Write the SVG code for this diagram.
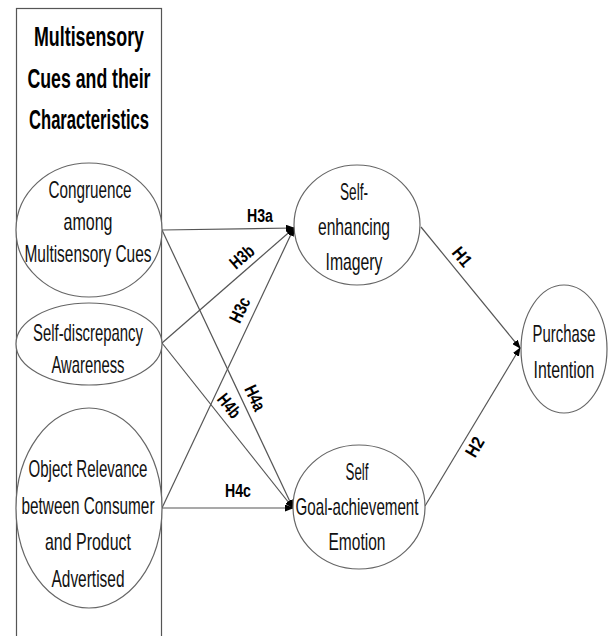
<svg xmlns="http://www.w3.org/2000/svg" width="609" height="636" viewBox="0 0 609 636">
<style>
.node{fill:#fff;stroke:#666;stroke-width:1.2}
.t{font-family:"Liberation Sans",Arial,sans-serif;font-size:24px;fill:#111;text-anchor:middle}
.title{font-family:"Liberation Sans",Arial,sans-serif;font-size:28px;font-weight:bold;fill:#000;text-anchor:middle}
.lbl{font-family:"Liberation Sans",Arial,sans-serif;font-size:18px;font-weight:bold;fill:#000;text-anchor:middle}
.c{stroke:#555;stroke-width:1.2;fill:none}
.a{marker-end:url(#arr)}
</style>
<defs>
<marker id="arr" markerUnits="userSpaceOnUse" markerWidth="9" markerHeight="7" refX="8" refY="3.5" orient="auto">
<path d="M0,0 L9,3.5 L0,7 z" fill="#000"/>
</marker>
</defs>
<rect width="609" height="636" fill="#fff"/>
<g id="frame">
<rect x="16.5" y="8.5" width="145" height="640" fill="none" stroke="#555" stroke-width="1.2"/>
<text class="title" x="89" y="46" textLength="110" lengthAdjust="spacingAndGlyphs">Multisensory</text>
<text class="title" x="89" y="88" textLength="123" lengthAdjust="spacingAndGlyphs">Cues and their</text>
<text class="title" x="89" y="129" textLength="120" lengthAdjust="spacingAndGlyphs">Characteristics</text>
</g>
<g id="connectors">
<line class="c a" x1="162" y1="230" x2="294" y2="228"/>
<line class="c a" x1="162" y1="343" x2="294" y2="228"/>
<line class="c a" x1="162" y1="508" x2="294" y2="228"/>
<line class="c a" x1="162" y1="230" x2="293" y2="508"/>
<line class="c a" x1="162" y1="343" x2="293" y2="508"/>
<line class="c a" x1="162" y1="508" x2="293" y2="508"/>
<line class="c a" x1="421" y1="227" x2="520" y2="348"/>
<line class="c a" x1="425" y1="506" x2="520" y2="348"/>
<text class="lbl" x="260" y="222" textLength="26" lengthAdjust="spacingAndGlyphs">H3a</text>
<text class="lbl" transform="translate(242,257) rotate(-40.8)" x="0" y="6" textLength="26" lengthAdjust="spacingAndGlyphs">H3b</text>
<text class="lbl" transform="translate(240,310) rotate(-64.6)" x="0" y="6" textLength="26" lengthAdjust="spacingAndGlyphs">H3c</text>
<text class="lbl" transform="translate(255,398) rotate(64.8)" x="0" y="6" textLength="26" lengthAdjust="spacingAndGlyphs">H4a</text>
<text class="lbl" transform="translate(229,406) rotate(51.5)" x="0" y="6" textLength="26" lengthAdjust="spacingAndGlyphs">H4b</text>
<text class="lbl" x="238" y="497" textLength="26" lengthAdjust="spacingAndGlyphs">H4c</text>
<text class="lbl" transform="translate(462,257) rotate(50.4)" x="0" y="6" textLength="20" lengthAdjust="spacingAndGlyphs">H1</text>
<text class="lbl" transform="translate(475,447) rotate(-59.5)" x="0" y="6" textLength="20" lengthAdjust="spacingAndGlyphs">H2</text>
</g>
<g id="congruence">
<ellipse class="node" cx="89" cy="230" rx="73" ry="67"/>
<text class="t" x="90" y="198" textLength="83" lengthAdjust="spacingAndGlyphs">Congruence</text>
<text class="t" x="88" y="230" textLength="49" lengthAdjust="spacingAndGlyphs">among</text>
<text class="t" x="88" y="262" textLength="127" lengthAdjust="spacingAndGlyphs">Multisensory Cues</text>
</g>
<g id="selfdiscrepancy">
<ellipse class="node" cx="89" cy="344" rx="73" ry="41"/>
<text class="t" x="88" y="341" textLength="110" lengthAdjust="spacingAndGlyphs">Self-discrepancy</text>
<text class="t" x="88" y="373" textLength="73" lengthAdjust="spacingAndGlyphs">Awareness</text>
</g>
<g id="objectrelevance">
<ellipse class="node" cx="89" cy="508" rx="73" ry="100"/>
<text class="t" x="88" y="477" textLength="119" lengthAdjust="spacingAndGlyphs">Object Relevance</text>
<text class="t" x="88" y="514" textLength="133" lengthAdjust="spacingAndGlyphs">between Consumer</text>
<text class="t" x="88" y="550" textLength="86" lengthAdjust="spacingAndGlyphs">and Product</text>
<text class="t" x="88" y="587" textLength="73" lengthAdjust="spacingAndGlyphs">Advertised</text>
</g>
<g id="selfenhancing">
<ellipse class="node" cx="357" cy="225" rx="63" ry="60"/>
<text class="t" x="354" y="200" textLength="28" lengthAdjust="spacingAndGlyphs">Self-</text>
<text class="t" x="354" y="235" textLength="72" lengthAdjust="spacingAndGlyphs">enhancing</text>
<text class="t" x="354" y="270" textLength="57" lengthAdjust="spacingAndGlyphs">Imagery</text>
</g>
<g id="goalachievement">
<ellipse class="node" cx="359" cy="507" rx="66" ry="62"/>
<text class="t" x="357" y="480" textLength="23" lengthAdjust="spacingAndGlyphs">Self</text>
<text class="t" x="357" y="515" textLength="123" lengthAdjust="spacingAndGlyphs">Goal-achievement</text>
<text class="t" x="357" y="550" textLength="57" lengthAdjust="spacingAndGlyphs">Emotion</text>
</g>
<g id="purchase">
<ellipse class="node" cx="564" cy="349" rx="43" ry="64"/>
<text class="t" transform="translate(564,342) scale(0.62,1)" x="0" y="0">Purchase</text>
<text class="t" transform="translate(564,378) scale(0.66,1)" x="0" y="0">Intention</text>
</g>
</svg>
